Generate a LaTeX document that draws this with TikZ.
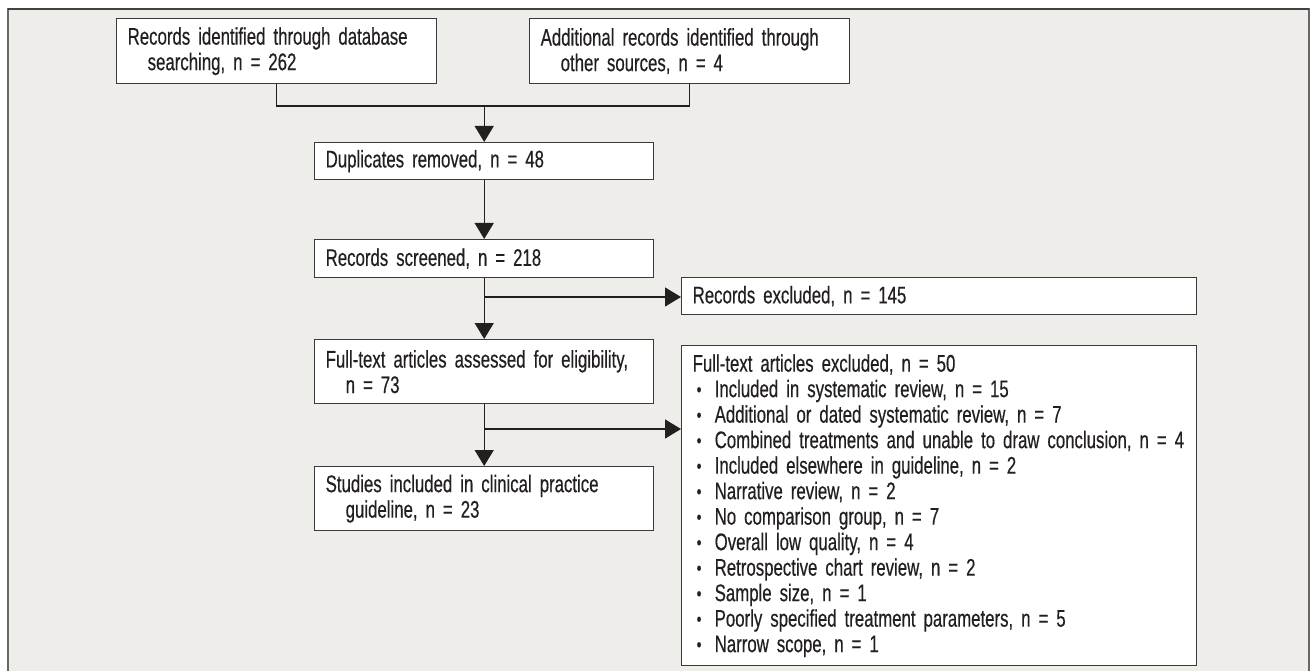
\documentclass[tikz,border=0pt]{standalone}
\usepackage{fontspec}
\setmainfont{Liberation Sans}[FakeStretch=0.70, WordSpace=0.7, FakeBold=0.4]
\usetikzlibrary{arrows.meta,calc}
\definecolor{bg}{HTML}{EEEDE9}
\definecolor{frame}{HTML}{686868}
\definecolor{boxline}{HTML}{3A3A3A}
\definecolor{ink}{HTML}{231F20}
\tikzset{
  flowbox/.style={draw=boxline, line width=1.4pt, fill=white, anchor=north west,
    inner xsep=11pt, inner ysep=0pt, align=left, font=\fontsize{24}{25.5}\selectfont,
    text=ink},
  conn/.style={draw=ink, line width=1.4pt},
  arr/.style={conn, -{Triangle[width=19pt,length=16pt]}}
}
\newcommand{\bul}{\makebox[22pt][l]{\hspace{4pt}\raisebox{1pt}{\scalebox{0.8}{•}}}}
\begin{document}
\begin{tikzpicture}[x=1pt,y=-1pt]
\useasboundingbox (0,0) rectangle (1312,671);
\fill[white] (0,0) rectangle (1312,671);
\fill[bg] (8,9.5) rectangle (1309,675);
\draw[frame, line width=2pt] (8,675) -- (8,9.5) -- (1309,9.5) -- (1309,675);
\draw[ink!85, line width=1.4pt] (8,9) -- (1309,9);

\node[flowbox, minimum width=320pt, minimum height=65pt, text width=298pt] (A) at (116,18)
  {Records identified through database\\\hspace*{20pt}searching, n = 262};
\node[flowbox, minimum width=320pt, minimum height=65pt, text width=298pt] (B) at (529,18)
  {Additional records identified through\\\hspace*{20pt}other sources, n = 4};
\node[flowbox, minimum width=339pt, minimum height=37pt, text width=317pt] (C) at (314,142)
  {Duplicates removed, n = 48};
\node[flowbox, minimum width=339pt, minimum height=38pt, text width=317pt] (D) at (314,239)
  {Records screened, n = 218};
\node[flowbox, minimum width=515pt, minimum height=37pt, text width=493pt] (E) at (681,277)
  {Records excluded, n = 145};
\node[flowbox, minimum width=339pt, minimum height=64pt, text width=317pt] (F) at (314,339)
  {Full-text articles assessed for eligibility,\\\hspace*{20pt}n = 73};
\node[flowbox, minimum width=515pt, minimum height=320pt, text width=493pt] (G) at (681,345)
  {Full-text articles excluded, n = 50\\
   \bul Included in systematic review, n = 15\\
   \bul Additional or dated systematic review, n = 7\\
   \bul Combined treatments and unable to draw conclusion, n = 4\\
   \bul Included elsewhere in guideline, n = 2\\
   \bul Narrative review, n = 2\\
   \bul No comparison group, n = 7\\
   \bul Overall low quality, n = 4\\
   \bul Retrospective chart review, n = 2\\
   \bul Sample size, n = 1\\
   \bul Poorly specified treatment parameters, n = 5\\
   \bul Narrow scope, n = 1};
\node[flowbox, minimum width=339pt, minimum height=64pt, text width=317pt] (H) at (314,466)
  {Studies included in clinical practice\\\hspace*{20pt}guideline, n = 23};

\coordinate (j1) at ($(C.north)+(0,-36)$);
\draw[conn] (A.south) |- (j1) -| (B.south);
\draw[arr] (j1) -- (C.north);
\draw[arr] (C.south) -- (D.north);
\coordinate (b1) at (D.south |- 0,297);
\draw[arr] (D.south) -- (F.north);
\draw[arr] (b1) -- (b1 -| E.west);
\coordinate (b2) at (F.south |- 0,429);
\draw[arr] (F.south) -- (H.north);
\draw[arr] (b2) -- (b2 -| G.west);
\end{tikzpicture}
\end{document}
